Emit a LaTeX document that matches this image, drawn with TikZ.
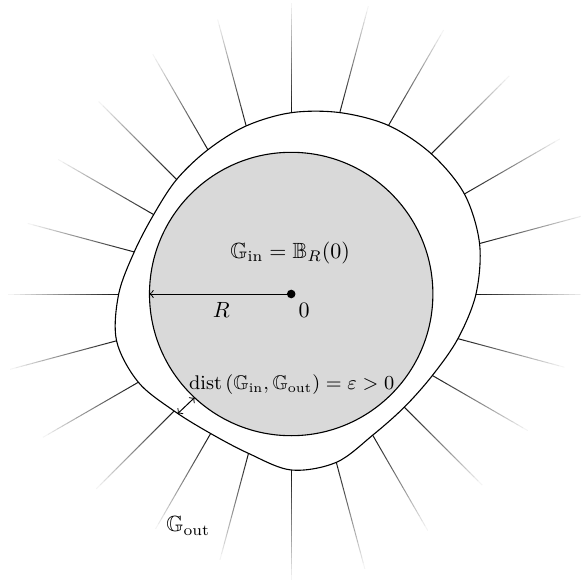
\documentclass[tikz,border=0pt]{standalone}
\usepackage{amsmath,amssymb}
\begin{document}
\begin{tikzpicture}[x=0.4545pt,y=0.4545pt,>=to,
  raystyle/.style={line width=0.45pt},
  curvestyle/.style={line width=0.5pt,draw=black},
  lbl/.style={inner sep=1pt}]
\useasboundingbox (-291.2,-294) rectangle (289.8,294);
\coordinate (O) at (0,0);
\begin{scope}
\clip (-291.2,-294) rectangle (289.8,294);
\foreach \a/\r in {0/184.8,15/195,30/200,45/198.2,60/194.6,75/187.8,90/181.3,105/174,120/166.6,135/162,150/158.8,165/162.5,180/172.5,195/180.8,210/176.5,225/165.5,240/161.1,255/165,270/176,285/174.3,300/163,315/160,330/163,345/172.6}{
  \foreach \i in {0,...,19}{
    \pgfmathsetmacro\p{90-\i*4.5}
    \draw[raystyle,black!\p] ({\a}:{\r+\i*5.5}) -- ({\a}:{\r+\i*5.5+5.7});
  }
}
\end{scope}
\draw[curvestyle] plot[smooth cycle,tension=0.55] coordinates {(0:184.8) (15:195) (30:200) (45:198.2) (60:194.6) (75:187.8) (90:181.3) (105:174) (120:166.6) (135:162) (150:158.8) (165:162.5) (180:172.5) (195:180.8) (210:176.5) (225:165.5) (240:161.1) (255:165) (270:176) (285:174.3) (300:163) (315:160) (330:163) (345:172.6)};
\filldraw[fill=black!15,draw=black,line width=0.5pt] (O) circle (141.7);
\coordinate (Rend) at (180:141.7);
\draw[->,line width=0.45pt] (O) -- (Rend);
\fill (O) circle (4.3);
\coordinate (d1) at (-133.5:165);
\coordinate (d2) at (-133:141.7);
\draw[<->,line width=0.45pt] (d1) -- (d2);
\node[lbl] (gin) at (-1,41) {$\mathbb{G}_{\text{in}}=\mathbb{B}_R(0)$};
\node[lbl] (rlab) at (-70,-15.5) {$R$};
\node[lbl] (zero) at (13,-16) {$0$};
\node[lbl,font=\small] (dist) at (0.5,-91) {$\operatorname{dist}\left(\mathbb{G}_{\text{in}},\mathbb{G}_{\text{out}}\right)=\varepsilon>0$};
\node[lbl] (gout) at (-103,-232) {$\mathbb{G}_{\text{out}}$};
\end{tikzpicture}
\end{document}
